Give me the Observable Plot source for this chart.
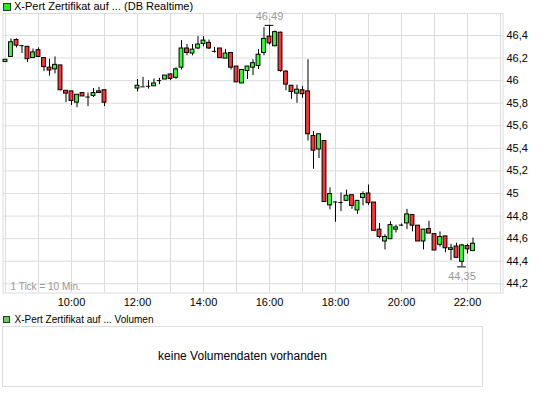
<!DOCTYPE html>
<html><head><meta charset="utf-8">
<script src="https://cdn.jsdelivr.net/npm/d3@7"></script>
<script src="https://cdn.jsdelivr.net/npm/@observablehq/plot@0.6"></script>
<style>
body{margin:0;background:#fff;font-family:"Liberation Sans",Arial,sans-serif;}
#wrap{position:relative;width:545px;height:395px;overflow:hidden;}
.leg{position:absolute;white-space:nowrap;color:#000;z-index:2;}
.sq{position:absolute;box-sizing:border-box;border:1px solid #333;z-index:2;}
#chart{position:absolute;left:0;top:0;z-index:1;}
#vol{position:absolute;box-sizing:border-box;left:2px;top:326px;width:481px;height:61px;border:1px solid #dcdcdc;font-size:12px;line-height:59px;text-align:center;color:#000;}
</style></head><body>
<div id="wrap">
  <div id="chart"></div>
  <div class="sq" style="left:3px;top:3px;width:8px;height:8px;background:#22ee22"></div>
  <div class="leg" style="left:14px;top:0px;font-size:11px;line-height:12px">X-Pert Zertifikat auf ... (DB Realtime)</div>
  <div class="sq" style="left:3px;top:316px;width:7px;height:7px;background:#66cc66"></div>
  <div class="leg" style="left:14.5px;top:313.5px;font-size:10px;line-height:12px">X-Pert Zertifikat auf ... Volumen</div>
  <div id="vol">keine Volumendaten vorhanden</div>
</div>
<script>
const times = ["08:00","08:10","08:20","08:30","08:40","08:50","09:00","09:10","09:20","09:30","09:40","09:50","10:00","10:10","10:20","10:30","10:40","10:50","11:00",
"12:00","12:10","12:20","12:30","12:40","12:50","13:00","13:10","13:20","13:30","13:40","13:50","14:00","14:10","14:20","14:30","14:40","14:50","15:00","15:10","15:20","15:30","15:40","15:50",
"16:00","16:10","16:20","16:30","16:40","16:50","17:00","17:10","17:20","17:30","17:40","17:50","18:00","18:10","18:20","18:30","18:40","18:50","19:00","19:10","19:20","19:30","19:40","19:50",
"20:00","20:10","20:20","20:30","20:40","20:50","21:00","21:10","21:20","21:30","21:40","21:50","22:00","22:10"];
const open = [46.165,46.21,46.36,46.31,46.30,46.20,46.27,46.20,46.115,46.10,46.135,45.91,45.905,45.805,45.89,45.855,45.865,45.905,45.915,
45.93,45.945,45.95,45.95,46.0,46.01,46.055,46.025,46.115,46.285,46.24,46.285,46.325,46.335,46.26,46.285,46.195,46.245,46.125,45.975,46.085,46.115,46.13,46.245,
46.39,46.305,46.425,46.08,45.955,45.885,45.915,45.905,45.51,45.39,45.465,44.895,44.925,44.92,44.935,44.985,44.85,44.96,45.0,44.92,44.68,44.575,44.595,44.68,
44.72,44.735,44.81,44.715,44.575,44.685,44.64,44.545,44.62,44.50,44.53,44.395,44.535,44.49];
const high = [46.185,46.37,46.37,46.31,46.30,46.28,46.29,46.20,46.19,46.21,46.135,45.91,45.905,45.875,45.89,45.89,45.93,45.94,45.915,
46.01,46.03,46.0,46.015,46.02,46.045,46.06,46.115,46.355,46.32,46.32,46.39,46.39,46.36,46.295,46.285,46.275,46.245,46.125,46.095,46.125,46.185,46.275,46.47,
46.49,46.44,46.43,46.09,45.955,45.96,45.95,46.185,45.55,45.525,45.465,45.05,44.925,45.005,45.03,44.985,44.935,45.015,45.075,44.92,44.735,44.635,44.75,44.72,
44.73,44.86,44.81,44.715,44.68,44.755,44.64,44.66,44.62,44.55,44.56,44.55,44.55,44.605];
const low = [46.165,46.21,46.29,46.24,46.16,46.20,46.21,46.08,46.04,46.06,45.91,45.805,45.78,45.76,45.86,45.77,45.85,45.89,45.77,
45.90,45.945,45.925,45.95,45.965,46.01,46.0,46.01,46.095,46.22,46.22,46.275,46.30,46.275,46.245,46.20,46.195,46.095,45.985,45.975,46.01,46.045,46.10,46.22,
46.315,46.30,46.075,45.91,45.835,45.80,45.845,45.465,45.215,45.31,44.925,44.855,44.745,44.84,44.935,44.86,44.815,44.89,44.895,44.67,44.60,44.50,44.595,44.65,
44.71,44.68,44.66,44.575,44.50,44.645,44.495,44.525,44.475,44.405,44.43,44.35,44.465,44.49];
const close = [46.185,46.34,46.31,46.31,46.19,46.25,46.21,46.12,46.09,46.14,45.915,45.885,45.82,45.875,45.86,45.855,45.89,45.89,45.805,
45.955,45.945,45.95,45.975,46.0,46.045,46.015,46.10,46.285,46.245,46.275,46.32,46.355,46.285,46.26,46.20,46.24,46.115,45.985,46.095,46.125,46.155,46.23,46.37,
46.33,46.43,46.085,45.965,45.90,45.92,45.88,45.525,45.38,45.525,44.925,44.995,44.925,44.92,44.98,44.89,44.935,44.995,44.915,44.67,44.615,44.615,44.72,44.70,
44.72,44.815,44.715,44.575,44.68,44.645,44.495,44.615,44.515,44.515,44.43,44.54,44.505,44.555];

const yTicks = [44.2,44.4,44.6,44.8,45,45.2,45.4,45.6,45.8,46,46.2,46.4];
const xLabels = ["10:00","12:00","14:00","16:00","18:00","20:00","22:00"];
const gridHours = ["08:00","09:00","10:00","11:00","12:00","13:00","14:00","15:00","16:00","17:00","18:00","19:00","20:00","21:00","22:00","23:00"];
const tickNote = "1 Tick = 10 Min.";

const toMin = s => +s.slice(0,2)*60 + +s.slice(3);
const fmtNum = v => String(+v.toFixed(2)).replace(".", ",");
const data = times.map((t,i)=>({t: toMin(t), open: open[i], high: high[i], low: low[i], close: close[i]}));
const bodies = data.filter(d => d.open !== d.close);
const dojis = data.filter(d => d.open === d.close);
const hi = data.reduce((a,b)=> b.high > a.high ? b : a);
const lo = data.reduce((a,b)=> b.low < a.low ? b : a);
const xLabelMins = xLabels.map(toMin);

const plot = Plot.plot({
  width: 545, height: 312,
  marginTop: 13, marginBottom: 19.5, marginLeft: 2.5, marginRight: 42.5,
  style: {fontFamily: "'Liberation Sans', Arial, sans-serif", fontSize: "11px", color: "#000", background: "transparent"},
  x: {domain: [toMin("08:00") - 4.55, toMin("23:00") + 4.55], label: null},
  y: {domain: [44.1185, 46.595], label: null},
  marks: [
    Plot.gridY(yTicks, {stroke: "#dcdcdc", strokeOpacity: 1}),
    Plot.gridX(gridHours.map(toMin), {stroke: "#dcdcdc", strokeOpacity: 1}),
    Plot.frame({stroke: "#dcdcdc"}),
    Plot.axisY(yTicks, {anchor: "right", label: null, tickSize: 0, tickPadding: 3.5, tickFormat: d => String(+d.toFixed(1)).replace(".", ",")}),
    Plot.axisX(xLabelMins, {anchor: "bottom", label: null, tickSize: 0, tickPadding: 5, tickFormat: m => xLabels[xLabelMins.indexOf(m)]}),
    Plot.text([tickNote], {frameAnchor: "bottom-left", text: d => d, dx: 7.5, dy: -6.5, textAnchor: "start", lineAnchor: "middle", fill: "#999", fontSize: 10}),
    Plot.ruleX(data, {x: "t", y1: "low", y2: "high", stroke: "#000", strokeWidth: 1}),
    Plot.rect(bodies, {x1: d => d.t - 3.5, x2: d => d.t + 3.5, y1: "open", y2: "close",
      fill: d => d.close > d.open ? "#33ff33" : "#ff3333", stroke: "#000", strokeWidth: 1}),
    Plot.ruleY(dojis, {x1: d => d.t - 4, x2: d => d.t + 4, y: "open", stroke: "#000", strokeWidth: 1}),
    Plot.ruleY([hi], {x1: d => d.t - 8, x2: d => d.t + 8, y: "high", stroke: "#000"}),
    Plot.ruleY([lo], {x1: d => d.t - 8, x2: d => d.t + 8, y: "low", stroke: "#000"}),
    Plot.text([hi], {x: "t", y: "high", text: d => fmtNum(d.high), dy: -9, fill: "#999"}),
    Plot.text([lo], {x: "t", y: "low", text: d => fmtNum(d.low), dy: 10, fill: "#999"})
  ]
});
document.getElementById("chart").appendChild(plot);
</script>
</body></html>
